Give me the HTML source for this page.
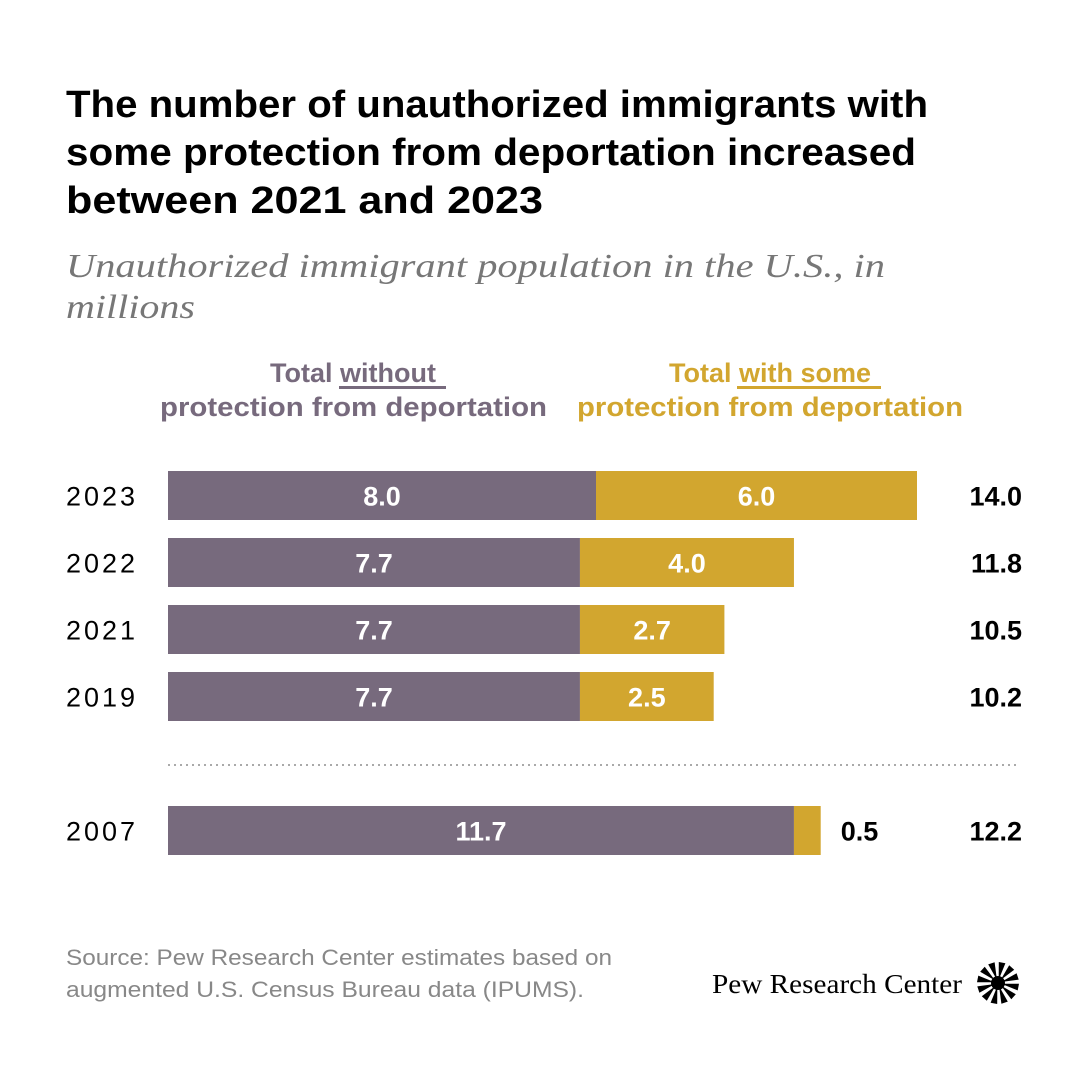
<!DOCTYPE html>
<html><head><meta charset="utf-8"><style>
html,body{margin:0;padding:0;background:#fff;}
svg{display:block;}
</style></head><body>
<svg width="1081" height="1081" viewBox="0 0 1081 1081" xmlns="http://www.w3.org/2000/svg">
<rect width="1081" height="1081" fill="#fff"/>
<g font-family="Liberation Sans, sans-serif" font-weight="bold" font-size="38" fill="#000">
<text x="66" y="117" textLength="862" lengthAdjust="spacingAndGlyphs">The number of unauthorized immigrants with</text>
<text x="66" y="165" textLength="850" lengthAdjust="spacingAndGlyphs">some protection from deportation increased</text>
<text x="66" y="213" textLength="477" lengthAdjust="spacingAndGlyphs">between 2021 and 2023</text>
</g>
<g font-family="Liberation Serif, serif" font-style="italic" font-size="34" fill="#777">
<text x="66" y="277" textLength="819" lengthAdjust="spacingAndGlyphs">Unauthorized immigrant population in the U.S., in</text>
<text x="66" y="318" textLength="129" lengthAdjust="spacingAndGlyphs">millions</text>
</g>
<g font-family="Liberation Sans, sans-serif" font-weight="bold" font-size="27">
<text x="353" y="382" text-anchor="middle" fill="#776a7d">Total without</text>
<rect x="339" y="386" width="107" height="3" fill="#776a7d"/>
<text x="160" y="416" textLength="387" lengthAdjust="spacingAndGlyphs" fill="#776a7d">protection from deportation</text>
<text x="770" y="382" text-anchor="middle" fill="#d2a62f">Total with some</text>
<rect x="737" y="386" width="144" height="3" fill="#d2a62f"/>
<text x="577" y="416" textLength="386" lengthAdjust="spacingAndGlyphs" fill="#d2a62f">protection from deportation</text>
</g>
<g id="bars"></g>
<line x1="168" y1="765" x2="1016" y2="765" stroke="#aaa" stroke-width="2" stroke-dasharray="2,4"/>
<g font-family="Liberation Sans, sans-serif" font-size="22" fill="#888">
<text x="66" y="965" textLength="546" lengthAdjust="spacingAndGlyphs">Source: Pew Research Center estimates based on</text>
<text x="66" y="997" textLength="518" lengthAdjust="spacingAndGlyphs">augmented U.S. Census Bureau data (IPUMS).</text>
</g>
<text x="712" y="993" font-family="Liberation Serif, serif" font-size="27" fill="#000" textLength="250" lengthAdjust="spacingAndGlyphs">Pew Research Center</text>
<g id="logo"></g>
</svg>
<script>
const years = ['2023','2022','2021','2019','2007'];
const without = [8.0, 7.7, 7.7, 7.7, 11.7];
const withSome = [6.0, 4.0, 2.7, 2.5, 0.5];
const totals = ['14.0','11.8','10.5','10.2','12.2'];
const withoutLabels = ['8.0','7.7','7.7','7.7','11.7'];
const withLabels = ['6.0','4.0','2.7','2.5','0.5'];
const NS='http://www.w3.org/2000/svg';
const x0=168, scale=53.5, barH=49;
const rowY=[471,538,605,672,806];
const xs=v=>v*scale;
const g=document.getElementById('bars');
function mk(tag,attrs){const e=document.createElementNS(NS,tag);for(const k in attrs)e.setAttribute(k,attrs[k]);return e;}
years.forEach((yr,i)=>{
  const y=rowY[i];
  const w1=xs(without[i]), w2=xs(withSome[i]);
  const r1=mk('rect',{x:x0,y:y,width:w1,height:barH,fill:'#776a7d'});
  
  
  g.appendChild(r1);
  const r2=mk('rect',{x:x0+w1,y:y,width:w2,height:barH,fill:'#d2a62f'});
  
  
  g.appendChild(r2);
  const base=y+barH/2+10;
  const yl=mk('text',{x:66,y:base,'font-family':'Liberation Sans, sans-serif','font-size':27,fill:'#000','letter-spacing':'3'});
  yl.textContent=yr;
  
  
  g.appendChild(yl);
  const t1=mk('text',{x:x0+w1/2,y:base,'text-anchor':'middle','font-family':'Liberation Sans, sans-serif','font-weight':'bold','font-size':27,fill:'#fff'});
  t1.textContent=withoutLabels[i];
  
  
  g.appendChild(t1);
  const inside=w2>60;
  const t2=mk('text',{x:inside?x0+w1+w2/2:x0+w1+w2+20,y:base,'text-anchor':inside?'middle':'start','font-family':'Liberation Sans, sans-serif','font-weight':'bold','font-size':27,fill:inside?'#fff':'#000'});
  t2.textContent=withLabels[i];
  
  
  g.appendChild(t2);
  const t3=mk('text',{x:1022,y:base,'text-anchor':'end','font-family':'Liberation Sans, sans-serif','font-weight':'bold','font-size':27,fill:'#000'});
  t3.textContent=totals[i];
  
  
  g.appendChild(t3);
});
const lg=document.getElementById('logo');
const cx=998,cy=983;
for(let k=0;k<12;k++){
  const a=k*Math.PI/6+0.2;
  const da=0.16;
  const r0=6,r1=21;
  const pts=[[a-da*0.5,r0],[a+da*0.5,r0],[a+da,r1],[a-da,r1]].map(([t,r])=>(cx+Math.cos(t)*r).toFixed(1)+','+(cy+Math.sin(t)*r).toFixed(1)).join(' ');
  lg.appendChild(mk('polygon',{points:pts,fill:'#000'}));
}
lg.appendChild(mk('circle',{cx:cx,cy:cy,r:7,fill:'#000'}));
</script>
</body></html>
